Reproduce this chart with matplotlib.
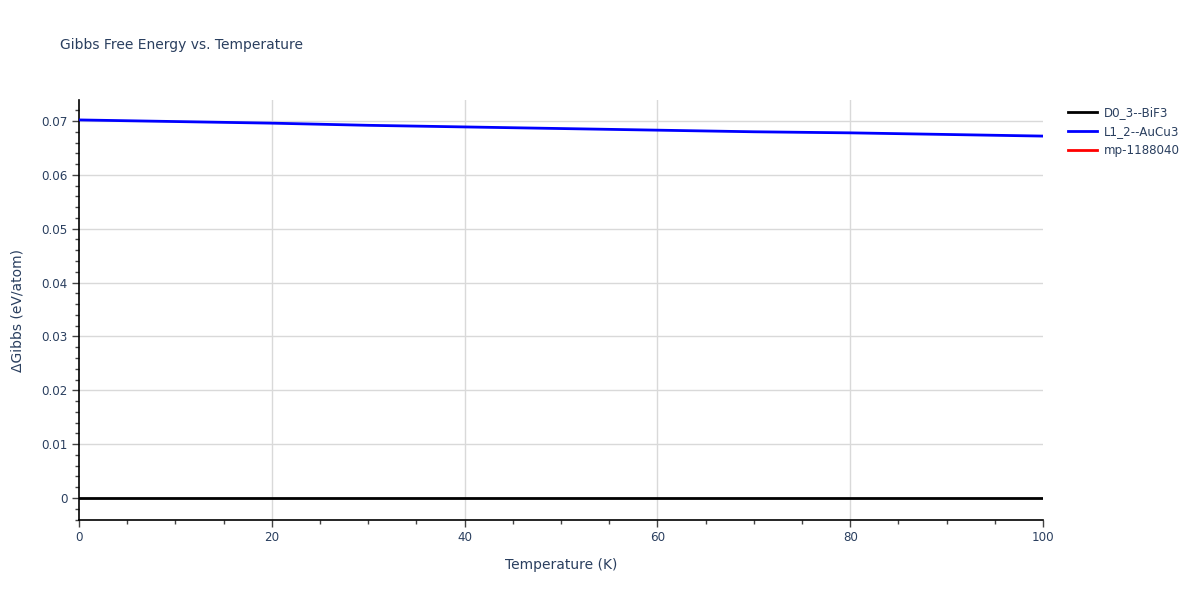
import matplotlib
matplotlib.use("Agg")
import matplotlib.pyplot as plt
from matplotlib.ticker import MultipleLocator
from matplotlib.lines import Line2D

plt.rcParams['font.family'] = ['DejaVu Sans']

temperature = [0, 10, 20, 30, 40, 50, 60, 70, 80, 90, 100]
d03_bif3 = [0, 0, 0, 0, 0, 0, 0, 0, 0, 0, 0]
l12_aucu3 = [0.0702, 0.0699, 0.0696, 0.0692, 0.0689, 0.0686, 0.0683, 0.0680, 0.0678, 0.0675, 0.0672]
mp_1188040_T = []
mp_1188040 = []

series_names = ["D0_3--BiF3", "L1_2--AuCu3", "mp-1188040"]
series_colors = ["black", "blue", "red"]

txt = "#2a3f5f"
fig = plt.figure(figsize=(12, 6), dpi=100)
ax = fig.add_axes([79/1200, 80/600, (1043-79)/1200, 420/600])

ax.plot(temperature, d03_bif3, color=series_colors[0], lw=2, zorder=3)
ax.plot(temperature, l12_aucu3, color=series_colors[1], lw=2, zorder=3)
ax.plot(mp_1188040_T, mp_1188040, color=series_colors[2], lw=2, zorder=3)

ax.set_xlim(0, 100)
ax.set_ylim(-0.00408, 0.0739)
ax.xaxis.set_major_locator(MultipleLocator(20))
ax.xaxis.set_minor_locator(MultipleLocator(5))
ax.yaxis.set_major_locator(MultipleLocator(0.01))
ax.yaxis.set_minor_locator(MultipleLocator(0.002))
ax.yaxis.set_major_formatter(matplotlib.ticker.FuncFormatter(lambda v, p: "0" if abs(v) < 1e-9 else f"{v:.2f}"))

ax.grid(True, which='major', color='#d9d9d9', lw=1, zorder=0)
for s in ['top', 'right']:
    ax.spines[s].set_visible(False)
for s in ['left', 'bottom']:
    ax.spines[s].set_color('black')
    ax.spines[s].set_linewidth(1.2)

ax.tick_params(axis='both', which='major', length=5, width=1, color='#444444',
               labelsize=8.6, labelcolor=txt, direction='out', pad=3)
ax.tick_params(axis='both', which='minor', length=3, width=1, color='#444444', direction='out')

ax.set_xlabel("Temperature (K)", fontsize=10, color=txt, labelpad=10)
ax.set_ylabel("ΔGibbs (eV/atom)", fontsize=10, color=txt, labelpad=12)

fig.text(60/1200, 1 - 45/600, "Gibbs Free Energy vs. Temperature", fontsize=10,
         color=txt, va='center', ha='left')

handles = [Line2D([0], [0], color=c, lw=2) for c in series_colors]
fig.legend(handles, series_names, loc='upper left', bbox_to_anchor=(1068/1200, 1 - 106/600),
           frameon=False, fontsize=8.6, labelcolor=txt, handlelength=2.4,
           handletextpad=0.6, labelspacing=0.5, borderaxespad=0, borderpad=0)

fig.canvas.draw()
for t in ax.xaxis.get_major_ticks():
    if abs(t.get_loc() - 100) < 1e-9 or abs(t.get_loc()) < 1e-9:
        t.gridline.set_visible(False)

fig.savefig("out.png", dpi=100)
